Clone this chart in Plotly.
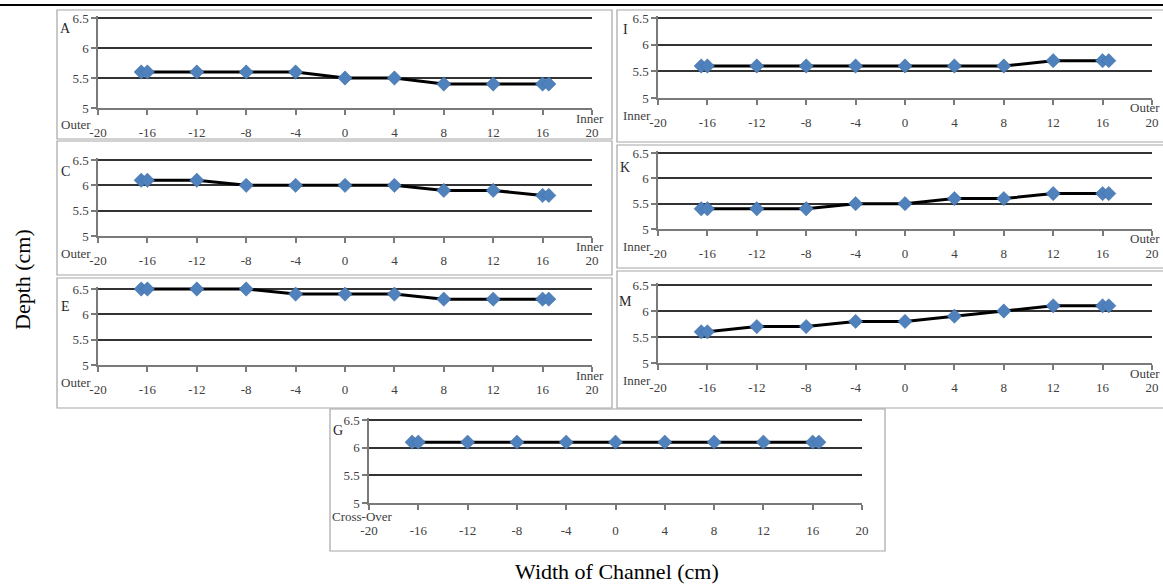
import plotly.graph_objects as go

W, H = 1163, 586

# ---- data ----
x_pos = [-16.5, -16, -12, -8, -4, 0, 4, 8, 12, 16, 16.5]
depth_A = [5.6, 5.6, 5.6, 5.6, 5.6, 5.5, 5.5, 5.4, 5.4, 5.4, 5.4]
depth_C = [6.1, 6.1, 6.1, 6.0, 6.0, 6.0, 6.0, 5.9, 5.9, 5.8, 5.8]
depth_E = [6.5, 6.5, 6.5, 6.5, 6.4, 6.4, 6.4, 6.3, 6.3, 6.3, 6.3]
depth_I = [5.6, 5.6, 5.6, 5.6, 5.6, 5.6, 5.6, 5.6, 5.7, 5.7, 5.7]
depth_K = [5.4, 5.4, 5.4, 5.4, 5.5, 5.5, 5.6, 5.6, 5.7, 5.7, 5.7]
depth_M = [5.6, 5.6, 5.7, 5.7, 5.8, 5.8, 5.9, 6.0, 6.1, 6.1, 6.1]
depth_G = [6.1, 6.1, 6.1, 6.1, 6.1, 6.1, 6.1, 6.1, 6.1, 6.1, 6.1]

x_ticks = list(range(-20, 21, 4))
x_ticktext = [str(v) for v in x_ticks]  # plain hyphen-minus as in the source
y_ticks = [5, 5.5, 6, 6.5]
y_ticktext = ["5", "5.5", "6", "6.5"]

# name, data, left end label, right end label, plot area px (x0,x1,y0,y1), frame px (x0,x1,y0,y1), letter dy
panels = [
    ("A", depth_A, "Outer", "Inner", (98, 592, 18, 108), (57, 612, 10, 139), 11),
    ("C", depth_C, "Outer", "Inner", (98, 592, 160, 236), (57, 612, 141, 275), 12),
    ("E", depth_E, "Outer", "Inner", (98, 592, 289, 365), (57, 612, 278, 408), 17),
    ("I", depth_I, "Inner", "Outer", (658, 1152, 18, 98), (617, 1170, 10, 142), 12),
    ("K", depth_K, "Inner", "Outer", (658, 1152, 153, 229), (617, 1170, 145, 268), 14),
    ("M", depth_M, "Inner", "Outer", (658, 1152, 285, 363), (617, 1170, 271, 408), 16),
    ("G", depth_G, "Cross-Over", "", (369, 862, 420, 503), (330, 885, 409, 551), 11),
]

FONT = "Liberation Serif"
TICK_COLOR = "#404040"
GRID = "#333333"
AXIS = "#7a7a7a"
TOP_PAD_PX = 2.5  # keep the 6.5 gridline a little inside the range so it is drawn

fig = go.Figure()
shapes = []
annotations = []

for i, (name, vals, lab_l, lab_r, area, frame, ldy) in enumerate(panels):
    n = "" if i == 0 else str(i + 1)
    xa, ya = "x" + n, "y" + n
    fig.add_trace(go.Scatter(
        x=x_pos, y=vals, xaxis=xa, yaxis=ya, mode="lines+markers",
        line=dict(color="black", width=3),
        marker=dict(symbol="diamond", size=11, color="#4F81BD",
                    line=dict(color="#3C6A9E", width=0.5)),
        showlegend=False, cliponaxis=False,
    ))
    x0, x1, y0, y1 = area
    hpx = y1 - y0
    pad = TOP_PAD_PX * 1.5 / hpx
    fig.layout["xaxis" + n] = dict(
        domain=[x0 / W, x1 / W], range=[-20, 20], anchor=ya,
        tickvals=x_ticks, ticktext=x_ticktext, showgrid=False, zeroline=False,
        showline=True, linecolor=AXIS, linewidth=1.5,
        ticks="outside", ticklen=5, tickcolor=AXIS, tickwidth=1.5,
        ticklabelstandoff=10 if name == "G" else 7,
        tickfont=dict(family=FONT, size=13, color=TICK_COLOR),
        fixedrange=True, automargin=False,
    )
    fig.layout["yaxis" + n] = dict(
        domain=[1 - y1 / H, 1 - (y0 - TOP_PAD_PX) / H],
        range=[5, 6.5 + pad], anchor=xa,
        tickvals=y_ticks, ticktext=y_ticktext, showgrid=True,
        gridcolor=GRID, gridwidth=1.6, zeroline=False,
        showline=True, linecolor=AXIS, linewidth=1.5,
        ticks="outside", ticklen=5, tickcolor=AXIS, tickwidth=1.5,
        tickfont=dict(family=FONT, size=13, color=TICK_COLOR),
        fixedrange=True, automargin=False,
    )
    fx0, fx1, fy0, fy1 = frame
    shapes.append(dict(type="rect", xref="paper", yref="paper",
                       x0=fx0 / W, x1=fx1 / W, y0=1 - fy1 / H, y1=1 - fy0 / H,
                       line=dict(color="#a6a6a6", width=1.2), layer="below"))
    # panel letter
    annotations.append(dict(text=name, xref="paper", yref="paper",
                            x=(fx0 + 8) / W, y=1 - (y0 + ldy) / H,
                            xanchor="center", yanchor="middle", showarrow=False,
                            font=dict(family=FONT, size=14, color="#262626")))
    # end labels
    if name == "G":
        annotations.append(dict(text=lab_l, xref="paper", yref="paper",
                                x=(x0 - 7) / W, y=1 - (y1 + 13) / H,
                                xanchor="center", yanchor="middle", showarrow=False,
                                font=dict(family=FONT, size=13, color=TICK_COLOR)))
    else:
        annotations.append(dict(text=lab_l, xref="paper", yref="paper",
                                x=(x0 - 5) / W, y=1 - (y1 + 17) / H,
                                xanchor="right", yanchor="middle", showarrow=False,
                                font=dict(family=FONT, size=13, color=TICK_COLOR)))
        rx = x1 - 2 if lab_r == "Inner" else min(x1 - 2, W - 18)
        annotations.append(dict(text=lab_r, xref="paper", yref="paper",
                                x=rx / W, y=1 - (y1 + 10) / H,
                                xanchor="center", yanchor="middle", showarrow=False,
                                font=dict(family=FONT, size=13, color=TICK_COLOR)))

# top rule
shapes.append(dict(type="line", xref="paper", yref="paper", x0=0, x1=1,
                   y0=1 - 5 / H, y1=1 - 5 / H, line=dict(color="black", width=2)))

annotations.append(dict(text="Depth (cm)", xref="paper", yref="paper",
                        x=22 / W, y=1 - 280 / H, textangle=-90,
                        xanchor="center", yanchor="middle", showarrow=False,
                        font=dict(family=FONT, size=22, color="black")))
annotations.append(dict(text="Width of Channel (cm)", xref="paper", yref="paper",
                        x=617 / W, y=1 - 571 / H,
                        xanchor="center", yanchor="middle", showarrow=False,
                        font=dict(family=FONT, size=22, color="black")))

fig.update_layout(
    template="none",
    width=W, height=H, margin=dict(l=0, r=0, t=0, b=0, pad=0), autosize=False,
    paper_bgcolor="white", plot_bgcolor="white",
    shapes=shapes, annotations=annotations,
)

fig.write_html("out.html", config={"displayModeBar": False},
               post_script="document.body.style.margin='0px';document.body.style.overflow='hidden';")
